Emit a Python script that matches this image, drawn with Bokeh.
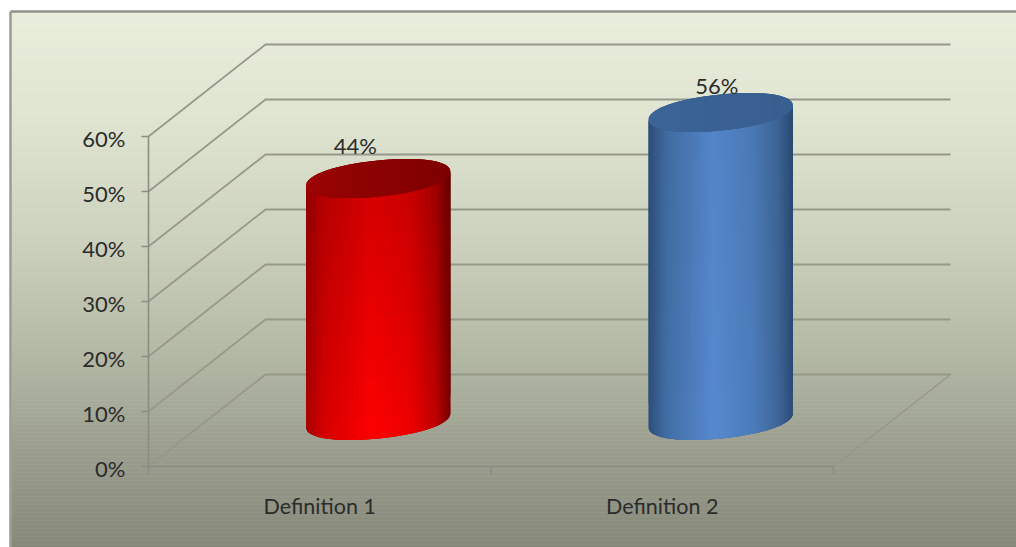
import numpy as np
from bokeh.plotting import figure
from bokeh.models import Range1d
from bokeh.core.properties import value
from bokeh.embed import file_html
from bokeh.resources import INLINE

# Chart content
categories = ["Definition 1", "Definition 2"]
shares = [44, 56]
y_ticks = [0, 10, 20, 30, 40, 50, 60]
y_tick_labels = ["0%", "10%", "20%", "30%", "40%", "50%", "60%"]

W, H = 1016, 547
FONT = "Lato"
TEXT_COLOR = "#2b2b2b"
GRID_COLOR = "#96988a"
AXIS_COLOR = "#8a8d82"

# Plot scale: one category step and one percentage point, in page pixels
X0, Y0 = 148, 466
CAT_PX, PCT_PX = 342.5, 5.5
# Oblique depth of the floor, in data units
DEPTH_X, DEPTH_Y = 117 / CAT_PX, 92 / PCT_PX
# Cylinder shape: half width, ellipse tilt and ellipse half height
RADIUS = 72 / CAT_PX
TILT = 7 / PCT_PX
MINOR = 18 / PCT_PX
# Below 1 this rounds the ends of the ellipses a little
ROUNDNESS = 0.94


def dx(px):
    return (px - X0) / CAT_PX


def dy(px):
    return (Y0 - px) / PCT_PX


def rcos(t):
    return np.sign(np.cos(t)) * np.abs(np.cos(t)) ** ROUNDNESS


def rsin(t):
    return np.sign(np.sin(t)) * np.abs(np.sin(t)) ** ROUNDNESS


p = figure(width=W, height=H, output_backend="svg", toolbar_location=None,
           x_range=Range1d(dx(0), dx(W)), y_range=Range1d(dy(H), dy(0)),
           min_border=0, outline_line_color=None, background_fill_color="white",
           border_fill_color="white")
p.grid.visible = False
p.axis.visible = False


def to_hex(c):
    return "#%02x%02x%02x" % tuple(int(round(v)) for v in c)


# Panel: vertical colour ramp from pale green to grey olive
stops_pos = [11, 120, 240, 350, 450, 547]
stops_col = [(233, 238, 220), (223, 228, 209), (204, 209, 189),
             (180, 185, 165), (155, 158, 142), (134, 137, 122)]
edges = np.arange(12, H + 4, 4)
tops, bottoms, fills = [], [], []
for a, b in zip(edges[:-1], edges[1:]):
    mid = (a + b) / 2
    c = [np.interp(mid, stops_pos, [s[i] for s in stops_col]) for i in range(3)]
    tops.append(dy(a))
    bottoms.append(dy(b))
    fills.append(to_hex(c))
p.quad(left=dx(11), right=dx(W + 2), top=tops, bottom=bottoms,
       fill_color=fills, line_color=fills, line_width=0.6)
p.line([dx(10), dx(10)], [dy(H + 2), dy(11)], line_color="#9a9c92", line_width=2.5)
p.line([dx(10), dx(W + 2)], [dy(11), dy(11)], line_color="#8f9188", line_width=2.5)

# Side wall and back wall rules
n_cats = len(categories)
for t in y_ticks:
    p.line([0, DEPTH_X, n_cats + DEPTH_X], [t, t + DEPTH_Y, t + DEPTH_Y],
           line_color=GRID_COLOR, line_width=1.8)
# Floor's right edge
p.line([n_cats, n_cats + DEPTH_X], [0, DEPTH_Y], line_color=GRID_COLOR, line_width=1.5)

# Axis lines and tick marks on the front edge
tick_y = dy(Y0 + 8) - dy(Y0)
tick_x = dx(X0 - 7) - dx(X0)
p.line([0, 0], [y_ticks[0], y_ticks[-1]], line_color=AXIS_COLOR, line_width=1.6)
p.line([0, n_cats], [0, 0], line_color=AXIS_COLOR, line_width=1.6)
p.segment(x0=[tick_x] * len(y_ticks), y0=y_ticks, x1=[0] * len(y_ticks), y1=y_ticks,
          line_color=AXIS_COLOR, line_width=1.6)
cat_edges = list(range(n_cats + 1))
p.segment(x0=cat_edges, y0=[0] * len(cat_edges), x1=cat_edges, y1=[tick_y] * len(cat_edges),
          line_color=AXIS_COLOR, line_width=1.6)


def cylinder(cx, cy, height, base, shade_at, shade_rgb, cap_left, cap_right, top_dim):
    """Draw a shaded cylinder standing on (cx, cy); later facets overlap earlier ones."""
    n_cols, n_rows = 80, 12
    theta = np.linspace(np.pi, 0, n_cols + 1)
    xs = cx + RADIUS * rcos(theta)
    front = TILT * rcos(theta) - MINOR * rsin(theta)

    # Solid silhouette beneath the facets keeps the outer edge clean
    p.patch(np.concatenate([xs, xs[::-1]]),
            np.concatenate([cy + front, (cy + height + front)[::-1]]),
            fill_color=base, line_color=None)

    xx, yy, cc = [], [], []
    for i in range(n_cols):
        u = ((xs[i] + xs[i + 1]) / 2 - cx) / RADIUS
        col = np.array([np.interp(u, shade_at, [s[k] for s in shade_rgb]) for k in range(3)])
        j = min(i + 2, n_cols)
        b0, b1 = cy + front[i], cy + front[j]
        for r in range(n_rows):
            f0 = r / n_rows
            f1 = min(r + 2, n_rows) / n_rows
            xx.append([xs[i], xs[j], xs[j], xs[i]])
            yy.append([b0 + height * f0, b1 + height * f0, b1 + height * f1, b0 + height * f1])
            cc.append(to_hex(col * (1 - top_dim * (r + 0.5) / n_rows)))
    p.patches(xx, yy, fill_color=cc, line_color=None)

    # Top face, shaded from left to right
    t = np.linspace(np.pi, 0, 61)
    tx = cx + RADIUS * rcos(t)
    upper = cy + height + TILT * rcos(t) + MINOR * rsin(t)
    lower = cy + height + TILT * rcos(t) - MINOR * rsin(t)
    p.patch(np.concatenate([tx, tx[::-1]]), np.concatenate([lower, upper[::-1]]),
            fill_color=to_hex(cap_right), line_color=None)
    xx, yy, cc = [], [], []
    for i in range(60):
        j = min(i + 2, 60)
        k = (i + 0.5) / 60
        xx.append([tx[i], tx[j], tx[j], tx[i]])
        yy.append([lower[i], lower[j], upper[j], upper[i]])
        cc.append(to_hex(np.array(cap_left) + (np.array(cap_right) - np.array(cap_left)) * k ** 0.6))
    p.patches(xx, yy, fill_color=cc, line_color=None)


styles = [
    dict(base="#a00000", shade_at=[-1, -0.75, -0.1, 0.45, 0.8, 1],
         shade_rgb=[(170, 0, 0), (215, 0, 0), (255, 0, 0), (238, 0, 0), (190, 0, 0), (118, 0, 0)],
         cap_left=(172, 6, 6), cap_right=(122, 0, 0), top_dim=0.16),
    dict(base="#32567f", shade_at=[-1, -0.75, -0.1, 0.45, 0.8, 1],
         shade_rgb=[(46, 80, 124), (66, 110, 165), (86, 137, 208), (76, 124, 186), (62, 102, 152), (44, 76, 118)],
         cap_left=(62, 103, 155), cap_right=(56, 94, 142), top_dim=0.03),
]
label_shift = [(-23, -33), (-4, -27)]
for i, (share, style) in enumerate(zip(shares, styles)):
    cx = i + 0.5 + DEPTH_X / 2
    cy = DEPTH_Y / 2
    cylinder(cx, cy, share, **style)
    p.text([cx], [cy + share], text=[f"{share}%"], text_align="center", text_baseline="middle",
           x_offset=label_shift[i][0], y_offset=label_shift[i][1],
           text_font=value(FONT), text_font_size="22px", text_color=TEXT_COLOR)

# Value axis labels and category labels
p.text([0] * len(y_ticks), y_ticks, text=y_tick_labels, text_align="right", text_baseline="middle",
       x_offset=-23, y_offset=2, text_font=value(FONT), text_font_size="22px", text_color=TEXT_COLOR)
p.text([i + 0.5 for i in range(n_cats)], [0] * n_cats, text=categories, text_align="center",
       text_baseline="middle", y_offset=39, text_font=value(FONT), text_font_size="21.5px",
       text_color=TEXT_COLOR)

open("out.html", "w").write(file_html(p, INLINE))
